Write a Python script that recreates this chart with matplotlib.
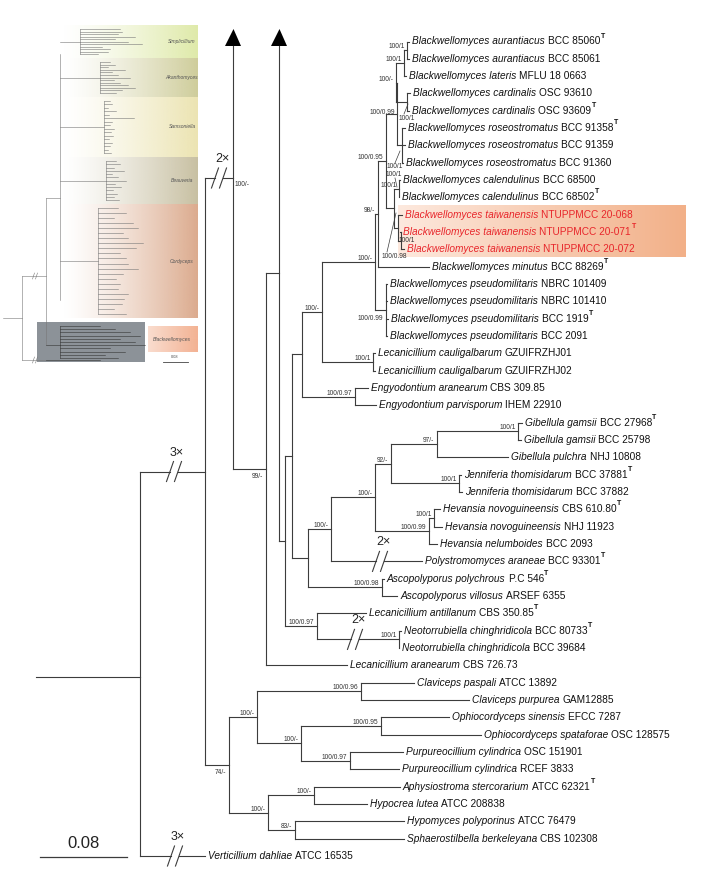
import numpy as np
import matplotlib.pyplot as plt
from matplotlib.patches import Polygon, Rectangle
from matplotlib.colors import to_rgb

plt.rcParams['font.family'] = ['Liberation Sans', 'DejaVu Sans']

# ---- taxa, top to bottom ----
species = ['Blackwellomyces aurantiacus', 'Blackwellomyces aurantiacus', 'Blackwellomyces lateris',
           'Blackwellomyces cardinalis', 'Blackwellomyces cardinalis',
           'Blackwellomyces roseostromatus', 'Blackwellomyces roseostromatus', 'Blackwellomyces roseostromatus',
           'Blackwellomyces calendulinus', 'Blackwellomyces calendulinus',
           'Blackwellomyces taiwanensis', 'Blackwellomyces taiwanensis', 'Blackwellomyces taiwanensis',
           'Blackwellomyces minutus',
           'Blackwellomyces pseudomilitaris', 'Blackwellomyces pseudomilitaris',
           'Blackwellomyces pseudomilitaris', 'Blackwellomyces pseudomilitaris',
           'Lecanicillium cauligalbarum', 'Lecanicillium cauligalbarum',
           'Engyodontium aranearum', 'Engyodontium parvisporum',
           'Gibellula gamsii', 'Gibellula gamsii', 'Gibellula pulchra',
           'Jenniferia thomisidarum', 'Jenniferia thomisidarum',
           'Hevansia novoguineensis', 'Hevansia novoguineensis', 'Hevansia nelumboides',
           'Polystromomyces araneae', 'Ascopolyporus polychrous', 'Ascopolyporus villosus',
           'Lecanicillium antillanum', 'Neotorrubiella chinghridicola', 'Neotorrubiella chinghridicola',
           'Lecanicillium aranearum', 'Claviceps paspali', 'Claviceps purpurea',
           'Ophiocordyceps sinensis', 'Ophiocordyceps spataforae',
           'Purpureocillium cylindrica', 'Purpureocillium cylindrica',
           'Aphysiostroma stercorarium', 'Hypocrea lutea', 'Hypomyces polyporinus',
           'Sphaerostilbella berkeleyana', 'Verticillium dahliae']
strains = ['BCC 85060', 'BCC 85061', 'MFLU 18 0663', 'OSC 93610', 'OSC 93609',
           'BCC 91358', 'BCC 91359', 'BCC 91360', 'BCC 68500', 'BCC 68502',
           'NTUPPMCC 20-068', 'NTUPPMCC 20-071', 'NTUPPMCC 20-072', 'BCC 88269',
           'NBRC 101409', 'NBRC 101410', 'BCC 1919', 'BCC 2091',
           'GZUIFRZHJ01', 'GZUIFRZHJ02', 'CBS 309.85', 'IHEM 22910',
           'BCC 27968', 'BCC 25798', 'NHJ 10808', 'BCC 37881', 'BCC 37882',
           'CBS 610.80', 'NHJ 11923', 'BCC 2093', 'BCC 93301', 'P.C 546', 'ARSEF 6355',
           'CBS 350.85', 'BCC 80733', 'BCC 39684', 'CBS 726.73', 'ATCC 13892', 'GAM12885',
           'EFCC 7287', 'OSC 128575', 'OSC 151901', 'RCEF 3833', 'ATCC 62321',
           'ATCC 208838', 'ATCC 76479', 'CBS 102308', 'ATCC 16535']
type_strain = [1, 0, 0, 0, 1, 1, 0, 0, 0, 1, 0, 1, 0, 1, 0, 0, 1, 0, 0, 0, 0, 0,
               1, 0, 0, 1, 0, 1, 0, 0, 1, 1, 0, 1, 1, 0, 0, 0, 0, 0, 0, 0, 0, 1,
               0, 0, 0, 0]
new_species = [10, 11, 12]
# tip end positions (branch depth, drawing units)
tip_x = [409, 409, 406, 410, 409, 405, 405, 403, 400, 399, 402, 400, 404, 429,
         387, 387, 388, 387, 375, 375, 368, 376, 522, 521, 508, 461, 462,
         440, 442, 437, 422, 384, 397, 366, 401, 399, 347, 414, 469,
         449, 481, 403, 399, 400, 367, 404, 404, 205]

# ---- internal nodes: depth, children, support ----
nodes = {
    'aur': (407, [0, 1], '100/1'),
    'aurlat': (404, ['aur', 2], '100/1'),
    'card': (407, [3, 4], '100/1'),
    'grpA': (396, ['aurlat', 'card'], '100/-'),
    'ros': (402, [5, 6, 7], '100/1'),
    'grpB': (397, ['grpA', 'ros'], '100/0.99'),
    'cal': (399, [8, 9], '100/1'),
    'tai2': (401, [11, 12], '100/1'),
    'tai': (398, [10, 'tai2'], '100/0.98'),
    'grpC': (394, ['cal', 'tai'], '100/1'),
    'grpD': (386, ['grpB', 'grpC'], '100/0.95'),
    'blk98': (378, ['grpD', 13], '98/-'),
    'pseudo': (386, [14, 15, 16, 17], '100/0.99'),
    'blk': (375, ['blk98', 'pseudo'], '100/-'),
    'caul': (373, [18, 19], '100/1'),
    'n322': (322, ['blk', 'caul'], '100/-'),
    'engy': (355, [20, 21], '100/0.97'),
    'n302': (302, ['n322', 'engy'], ''),
    'gams': (518, [22, 23], '100/1'),
    'gib': (437, ['gams', 24], '97/-'),
    'jenn': (459, [25, 26], '100/1'),
    'n391': (391, ['gib', 'jenn'], '92/-'),
    'novo': (434, [27, 28], '100/1'),
    'hev': (429, ['novo', 29], '100/0.99'),
    'n375': (375, ['n391', 'hev'], '100/-'),
    'n331': (331, ['n375', 30], '100/-'),
    'asco': (382, [31, 32], '100/0.98'),
    'n308': (308, ['n331', 'asco'], ''),
    'n292': (292, ['n302', 'n308'], ''),
    'neo': (399, [34, 35], '100/1'),
    'n317': (317, [33, 'neo'], '100/0.97'),
    'n285': (285, ['n292', 'n317'], ''),
    'n279': (279, ['arrow', 'n285'], ''),
    'n266': (266, ['n279', 36], '99/-'),
    'n233': (233, ['arrow', 'n266'], '100/-'),
    'clav': (361, [37, 38], '100/0.96'),
    'ophio': (381, [39, 40], '100/0.95'),
    'purp': (350, [41, 42], '100/0.97'),
    'n301': (301, ['ophio', 'purp'], '100/-'),
    'n257': (257, ['clav', 'n301'], '100/-'),
    'aphy': (314, [43, 44], '100/-'),
    'hypo': (295, [45, 46], '83/-'),
    'n268': (268, ['aphy', 'hypo'], '100/-'),
    'n229': (229, ['n257', 'n268'], '74/-'),
    'n205': (205, ['n233', 'n229'], ''),
    'root': (140, ['n205', 47], ''),
}
node_y_fixed = {'n279': 273, 'n233': 178, 'root': 677}
root_stub = 36
# shortened branches: child -> (break centre, factor label)
breaks = {'n205': (174, '3×'), 47: (175, '3×'), 'n233': (219, '2×'),
          30: (380, '2×'), 'neo': (355, '2×')}

# support labels moved away from their default spot, with leader lines
label_pos = {'n229': (226, 772, 'right'), 'pseudo': (383, 319, 'right'),
             'card': (415, 118, 'right'), 'grpB': (395, 113, 'right'),
             'ros': (403, 167, 'right'), 'grpC': (402, 174, 'right'),
             'tai2': (415, 241, 'right'), 'tai': (407, 257, 'right'),
             'n266': (263, 477, 'right'), 'n233': (235, 184, 'left')}
leaders = {'card': (404, 114, 408, 104), 'ros': (395, 163, 400, 151),
           'grpC': (395, 178, 397, 187), 'tai': (387, 252, 396, 213)}

# inset overview tree
inset_groups = ['Simplicillium', 'Akanthomyces', 'Samsoniella', 'Beauveria', 'Cordyceps']
inset_top = [25, 58, 97, 157, 204]
inset_bot = [58, 97, 157, 204, 318]
inset_cols = ['#dfeaa9', '#cfcd9b', '#ece4b2', '#c8c0a2', '#dcab8e']
inset_tips = [
    [40, 42, 38, 55, 35, 48, 62, 22, 30, 28, 18],
    [10, 15, 8, 25, 12, 18, 30, 14, 20, 28, 35, 22, 16],
    [6, 8, 4, 12, 5, 30, 8, 6, 10, 7, 9, 5, 8, 6, 4, 7],
    [10, 14, 8, 18, 6, 12, 20, 9, 15, 7, 11, 8, 13],
    [20, 28, 16, 35, 40, 25, 30, 45, 38, 22, 28, 30, 40, 25, 18, 22, 20, 30, 26, 24, 16, 28],
]
inset_crown = [80, 100, 104, 106, 98]
blk_tips = [40, 55, 70, 80, 60, 75, 85, 50, 65, 45, 58]

LC = '#3c3c3c'
LW = 0.8
row_y = 41.5 + 17.33 * np.arange(len(species))

fig = plt.figure(figsize=(7.14, 8.82), dpi=100)
ax = fig.add_axes([0, 0, 1, 1])
ax.set_xlim(0, 714)
ax.set_ylim(882, 0)
ax.axis('off')
renderer = fig.canvas.get_renderer()


def get_y(c):
    if isinstance(c, int):
        return row_y[c]
    if c in node_y_fixed:
        return node_y_fixed[c]
    ys = [get_y(k) for k in nodes[c][1] if k != 'arrow']
    return (min(ys) + max(ys)) / 2


def hline(x0, x1, y, key):
    if key in breaks:
        cx, lab = breaks[key]
        ax.plot([x0, cx - 4], [y, y], color=LC, lw=LW)
        ax.plot([cx + 4, x1], [y, y], color=LC, lw=LW)
        for d in (-4, 4):
            ax.plot([cx + d - 3.5, cx + d + 3.5], [y + 10, y - 10], color=LC, lw=LW)
        ax.text(cx + 3, y - 19, lab, fontsize=9, ha='center', va='center', color='#222')
    else:
        ax.plot([x0, x1], [y, y], color=LC, lw=LW)


def draw(name, px):
    x, kids, sup = nodes[name]
    y = get_y(name)
    hline(px, x, y, name)
    ys = [get_y(k) for k in kids if k != 'arrow']
    top, bot = min(ys), max(ys)
    if 'arrow' in kids:
        top = 46
        ax.add_patch(Polygon([[x - 8, 46], [x + 8, 46], [x + 0.5, 29]], closed=True,
                             color='black', lw=0))
    ax.plot([x, x], [top, bot], color=LC, lw=LW)
    for k in kids:
        if k == 'arrow':
            continue
        if isinstance(k, int):
            hline(x, tip_x[k], row_y[k], k)
        else:
            draw(k, x)
    if sup:
        lx, ly, ha = label_pos.get(name, (x - 2.5, y - 3.5, 'right'))
        ax.text(lx, ly, sup, fontsize=4.8, ha=ha, va='center', color='#333')
        if name in leaders:
            a, b, c, d = leaders[name]
            ax.plot([a, c], [b, d], color=LC, lw=0.5)


# highlight for the new species
grad = np.linspace(0, 1, 256)
c0, c1 = np.array(to_rgb('#fde9de')), np.array(to_rgb('#f2b088'))
img = c0[None, :] + (c1 - c0)[None, :] * grad[:, None]
ax.imshow(img[None, :, :], extent=[398, 686, 257, 205], aspect='auto', zorder=0)

draw('root', root_stub)

# tip labels
for i, sp in enumerate(species):
    col = '#e8262b' if i in new_species else '#111111'
    x0 = tip_x[i] + 3
    t = ax.text(x0, row_y[i], sp, fontsize=7.3, style='italic', ha='left', va='center', color=col)
    x1 = x0 + t.get_window_extent(renderer).width + 3
    t2 = ax.text(x1, row_y[i], strains[i], fontsize=7.3, ha='left', va='center', color=col)
    x2 = x1 + t2.get_window_extent(renderer).width
    if type_strain[i]:
        ax.text(x2 + 0.5, row_y[i] - 5.5, 'T', fontsize=5, fontweight='bold', ha='left',
                va='center', color=col)

# scale bar
ax.plot([40, 127], [857, 857], color=LC, lw=0.9)
ax.text(83, 844, '0.08', fontsize=12, ha='center', va='center', color='#222')

# ---- inset overview ----
ramp = np.linspace(0, 1, 200)
for g, top, bot, col in zip(inset_groups, inset_top, inset_bot, inset_cols):
    rgba = np.ones((1, 200, 4))
    rgba[0, :, :3] = to_rgb(col)
    rgba[0, :, 3] = ramp ** 1.3
    ax.imshow(rgba, extent=[62, 198, bot, top], aspect='auto', zorder=0)
    ax.text(182, (top + bot) / 2, g, fontsize=3.6, style='italic', ha='center', va='center',
            color='#555')
ax.add_patch(Rectangle((37, 322), 108, 40, color='#8c9298', lw=0, zorder=0))
rgba = np.ones((1, 200, 4))
rgba[0, :, :3] = to_rgb('#f3b293')
rgba[0, :, 3] = 0.45 + 0.55 * ramp
ax.imshow(rgba, extent=[148, 198, 352, 326], aspect='auto', zorder=0)
ax.text(172, 339, 'Blackwellomyces', fontsize=3.6, style='italic', ha='center', va='center',
        color='#555')
ax.plot([163, 188], [362, 362], color='#444', lw=0.6)
ax.text(175, 357, '0.08', fontsize=2.8, ha='center', va='center', color='#444')

IC, IW = '#777777', 0.4
ax.plot([3, 22], [318, 318], color=IC, lw=IW)
ax.plot([22, 22], [276, 360], color=IC, lw=IW)
for yy in (276, 360):
    ax.plot([22, 46], [yy, yy], color=IC, lw=IW)
    for d in (-1.5, 1.5):
        ax.plot([35 + d - 1, 35 + d + 1], [yy + 3, yy - 3], color=IC, lw=0.4)
ax.plot([46, 46], [198, 345], color=IC, lw=IW)
ax.plot([46, 60], [198, 198], color=IC, lw=IW)
ax.plot([60, 60], [54, 300], color=IC, lw=IW)
for top, bot, cx, lens in zip(inset_top, inset_bot, inset_crown, inset_tips):
    ty = np.linspace(top + 4, bot - 4, len(lens))
    mid = (ty[0] + ty[-1]) / 2
    ax.plot([60, cx], [mid, mid], color=IC, lw=IW)
    ax.plot([cx, cx], [ty[0], ty[-1]], color=IC, lw=IW)
    for yy, ln in zip(ty, lens):
        ax.plot([cx, cx + ln], [yy, yy], color=IC, lw=IW)
ty = np.linspace(326, 358, len(blk_tips))
ax.plot([46, 60], [345, 345], color='#333', lw=IW)
ax.plot([60, 60], [ty[0], ty[-1]], color='#333', lw=IW)
for yy, ln in zip(ty, blk_tips):
    ax.plot([60, 60 + ln], [yy, yy], color='#333', lw=IW)
ax.plot([46, 100], [360, 360], color='#333', lw=IW)

fig.savefig('out.png', dpi=100)
